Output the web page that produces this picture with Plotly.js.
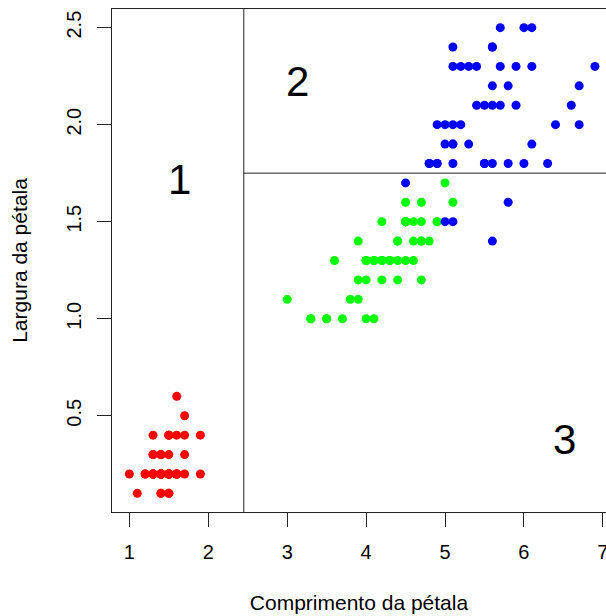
<!DOCTYPE html>
<html>
<head>
<meta charset="utf-8">
<script src="https://cdn.plot.ly/plotly-3.0.1.min.js"></script>
<style>html,body{margin:0;padding:0;background:#fff;}</style>
</head>
<body>
<div id="chart" style="width:606px;height:616px;"></div>
<script>
// Iris petal measurements by species
const setosaLength = [1.4,1.4,1.3,1.5,1.4,1.7,1.4,1.5,1.4,1.5,1.5,1.6,1.4,1.1,1.2,1.5,1.3,1.4,1.7,1.5,1.7,1.5,1.0,1.7,1.9,1.6,1.6,1.5,1.4,1.6,1.6,1.5,1.5,1.4,1.5,1.2,1.3,1.4,1.3,1.5,1.3,1.3,1.3,1.6,1.9,1.4,1.6,1.4,1.5,1.4];
const setosaWidth = [0.2,0.2,0.2,0.2,0.2,0.4,0.3,0.2,0.2,0.1,0.2,0.2,0.1,0.1,0.2,0.4,0.4,0.3,0.3,0.3,0.2,0.4,0.2,0.5,0.2,0.2,0.4,0.2,0.2,0.2,0.2,0.4,0.1,0.2,0.2,0.2,0.2,0.1,0.2,0.2,0.3,0.3,0.2,0.6,0.4,0.3,0.2,0.2,0.2,0.2];
const versicolorLength = [4.7,4.5,4.9,4.0,4.6,4.5,4.7,3.3,4.6,3.9,3.5,4.2,4.0,4.7,3.6,4.4,4.5,4.1,4.5,3.9,4.8,4.0,4.9,4.7,4.3,4.4,4.8,5.0,4.5,3.5,3.8,3.7,3.9,5.1,4.5,4.5,4.7,4.4,4.1,4.0,4.4,4.6,4.0,3.3,4.2,4.2,4.2,4.3,3.0,4.1];
const versicolorWidth = [1.4,1.5,1.5,1.3,1.5,1.3,1.6,1.0,1.3,1.4,1.0,1.5,1.0,1.4,1.3,1.4,1.5,1.0,1.5,1.1,1.8,1.3,1.5,1.2,1.3,1.4,1.4,1.7,1.5,1.0,1.1,1.0,1.2,1.6,1.5,1.6,1.5,1.3,1.3,1.3,1.2,1.4,1.2,1.0,1.3,1.2,1.3,1.3,1.1,1.3];
const virginicaLength = [6.0,5.1,5.9,5.6,5.8,6.6,4.5,6.3,5.8,6.1,5.1,5.3,5.5,5.0,5.1,5.3,5.5,6.7,6.9,5.0,5.7,4.9,6.7,4.9,5.7,6.0,4.8,4.9,5.6,5.8,6.1,6.4,5.6,5.1,5.6,6.1,5.6,5.5,4.8,5.4,5.6,5.1,5.1,5.9,5.7,5.2,5.0,5.2,5.4,5.1];
const virginicaWidth = [2.5,1.9,2.1,1.8,2.2,2.1,1.7,1.8,1.8,2.5,2.0,1.9,2.1,2.0,2.4,2.3,1.8,2.2,2.3,1.5,2.3,2.0,2.0,1.8,2.1,1.8,1.8,1.8,2.1,1.6,1.9,2.0,2.2,1.5,1.4,2.3,2.4,1.8,1.8,2.1,2.4,2.3,1.9,2.3,2.5,2.3,1.9,2.0,2.3,1.8];

// Decision-tree split values and region labels
const splitLength = 2.45;
const splitWidth = 1.75;
const regionLabels = ["1", "2", "3"];
const regionX = [1.64, 3.13, 6.51];
const regionY = [1.72, 2.225, 0.38];

const xTicks = [1, 2, 3, 4, 5, 6, 7];
const yTicks = [0.5, 1.0, 1.5, 2.0, 2.5];
const yTickText = ["0.5", "1.0", "1.5", "2.0", "2.5"];

const FONT = "Liberation Sans, Arial, sans-serif";

function sp(x, y, color) {
  return {x: x, y: y, type: "scatter", mode: "markers", showlegend: false, hoverinfo: "skip",
    marker: {color: color, size: 9, line: {width: 0}}};
}

const data = [
  sp(setosaLength, setosaWidth, "#ff0000"),
  sp(versicolorLength, versicolorWidth, "#00ff00"),
  sp(virginicaLength, virginicaWidth, "#0000ff")
];

const layout = {
  width: 606, height: 616,
  margin: {l: 112, r: 0, t: 9, b: 104, pad: 0},
  paper_bgcolor: "#fff", plot_bgcolor: "#fff",
  font: {family: FONT, size: 20, color: "#000"},
  xaxis: {
    range: [0.78, 7.04], showgrid: false, zeroline: false,
    showline: true, mirror: true, linecolor: "#222", linewidth: 1,
    ticks: "outside", ticklen: 14, tickcolor: "#222", tickwidth: 1,
    tickvals: xTicks, ticktext: xTicks.map(String), ticklabelstandoff: 8,
    ticklabeloverflow: "allow",
    tickfont: {family: FONT, size: 20, color: "#000"},
    title: {text: "Comprimento da pétala", font: {family: FONT, size: 21, color: "#000"}, standoff: 33}
  },
  yaxis: {
    range: [0.004, 2.596], showgrid: false, zeroline: false,
    showline: true, mirror: false, linecolor: "#222", linewidth: 1,
    ticks: "outside", ticklen: 14, tickcolor: "#222", tickwidth: 1,
    tickvals: yTicks, ticktext: yTickText, tickangle: -90, ticklabelstandoff: 8,
    tickfont: {family: FONT, size: 20, color: "#000"},
    title: {text: "Largura da pétala", font: {family: FONT, size: 21, color: "#000"}, standoff: 29}
  },
  shapes: [
    {type: "line", xref: "x", yref: "paper", x0: splitLength, x1: splitLength, y0: 0, y1: 1,
      line: {color: "#222", width: 1}},
    {type: "line", xref: "x", yref: "y", x0: splitLength, x1: 7.04, y0: splitWidth, y1: splitWidth,
      line: {color: "#222", width: 1}}
  ],
  annotations: regionLabels.map((t, i) => ({
    x: regionX[i], y: regionY[i], xref: "x", yref: "y", text: t, showarrow: false,
    font: {family: FONT, size: 42, color: "#000"}
  }))
};

Plotly.newPlot("chart", data, layout, {displayModeBar: false, staticPlot: true});
</script>
</body>
</html>
